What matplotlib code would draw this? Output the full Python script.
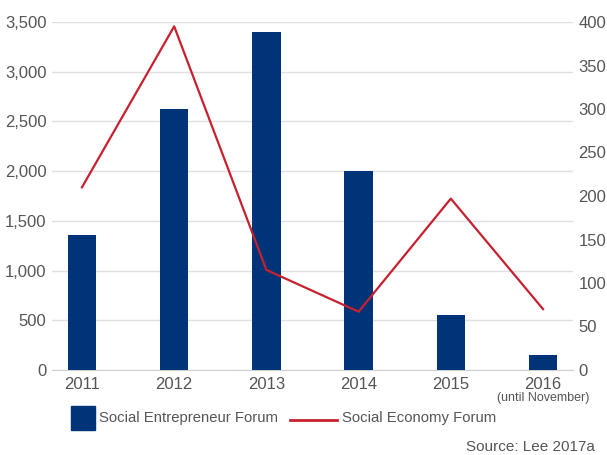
import matplotlib.pyplot as plt
from matplotlib.patches import Rectangle
from matplotlib.lines import Line2D
import numpy as np

years = ['2011', '2012', '2013', '2014', '2015', '2016']
entrepreneur_forum = [1360, 2620, 3400, 2000, 550, 150]
economy_forum = [210, 395, 115, 67, 197, 70]

navy = '#003478'
red = '#C8202F'
grey = '#555555'

plt.rcParams['font.family'] = ['Liberation Sans', 'DejaVu Sans']

W, H = 607, 455
fig = plt.figure(figsize=(W / 100, H / 100), dpi=100)
ax = fig.add_axes([52 / W, 1 - 370 / H, 521 / W, 348 / H])
x = np.arange(len(years))

ax.bar(x, entrepreneur_forum, width=0.31, color=navy, zorder=3)
ax.set_ylim(0, 3500)
ax.set_yticks(np.arange(0, 3501, 500))
ax.set_yticklabels([f'{v:,}' for v in range(0, 3501, 500)])
ax.set_xlim(-0.325, 5.325)
ax.set_xticks(x)
ax.set_xticklabels(years)
ax.grid(axis='y', color='#e0e0e0', linewidth=1, zorder=0)
for s in ['top', 'left', 'right']:
    ax.spines[s].set_visible(False)
ax.spines['bottom'].set_color('#d0d0d0')
ax.tick_params(axis='both', length=0, labelsize=12, colors=grey)
ax.tick_params(axis='x', pad=5)
ax.tick_params(axis='y', pad=4)
ax.text(5, -0.08, '(until November)', transform=ax.get_xaxis_transform(),
        ha='center', va='center', fontsize=9, color=grey)

ax2 = ax.twinx()
ax2.plot(x, economy_forum, color=red, linewidth=1.6, zorder=4)
ax2.set_ylim(0, 400)
ax2.set_yticks(np.arange(0, 401, 50))
for s in ['top', 'left', 'right', 'bottom']:
    ax2.spines[s].set_visible(False)
ax2.tick_params(axis='y', length=0, labelsize=12, colors=grey, pad=4)

# legend drawn by hand, pixel positions from the reference
ly = 1 - 418 / H
fig.patches.append(Rectangle((71 / W, 1 - 430 / H), 24 / W, 24 / H,
                             transform=fig.transFigure, color=navy))
fig.text(99 / W, ly, 'Social Entrepreneur Forum', ha='left', va='center',
         fontsize=10.7, color=grey)
fig.lines.append(Line2D([290 / W, 337 / W], [1 - 420 / H, 1 - 420 / H],
                        transform=fig.transFigure, color=red, linewidth=2))
fig.text(342 / W, ly, 'Social Economy Forum', ha='left', va='center',
         fontsize=10.7, color=grey)

fig.text(595 / W, 1 - 447 / H, 'Source: Lee 2017a', ha='right', va='center',
         fontsize=11, color=grey)

fig.savefig('out.png', dpi=100)
